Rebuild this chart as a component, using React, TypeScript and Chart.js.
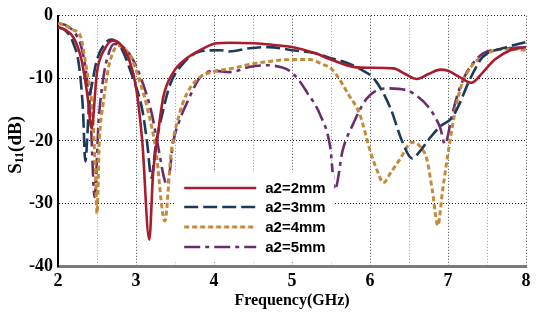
import React, { useEffect, useRef } from "react";
import { Chart, registerables } from "chart.js";

Chart.register(...registerables);

// ---- Data (frequency in GHz, S11 in dB) ----
const freqA = [2.0, 2.1, 2.2, 2.3, 2.38, 2.43, 2.5, 2.6, 2.7, 2.79, 2.92, 3.0, 3.08, 3.17, 3.22, 3.27, 3.35, 3.48, 3.65, 3.85, 4.03, 4.2, 4.5, 4.8, 5.0, 5.3, 5.5, 5.8, 6.0, 6.3, 6.45, 6.6, 6.75, 6.9, 7.0, 7.15, 7.3, 7.45, 7.6, 7.8, 8.0];
const s11A = [-1.8, -2.3, -3.5, -7, -13, -18, -9, -5.3, -4.0, -4.4, -7.3, -11.4, -20, -35.8, -25, -20, -13, -9.0, -6.8, -5.3, -4.4, -4.3, -4.4, -4.7, -5.0, -6.0, -7.0, -8.2, -8.3, -8.4, -9.3, -10.1, -9.3, -8.6, -8.8, -9.8, -10.7, -9.0, -7.0, -5.5, -5.0];

const freqB = [2.0, 2.1, 2.2, 2.27, 2.32, 2.35, 2.4, 2.45, 2.5, 2.6, 2.68, 2.79, 2.96, 3.08, 3.14, 3.2, 3.25, 3.35, 3.44, 3.6, 3.82, 4.08, 4.2, 4.45, 4.7, 5.0, 5.3, 5.5, 5.7, 5.87, 6.06, 6.26, 6.41, 6.54, 6.65, 6.77, 6.9, 7.05, 7.15, 7.25, 7.37, 7.45, 7.7, 8.0];
const s11B = [-1.8, -2.4, -4.5, -8, -15, -23.3, -14, -10, -7, -4.5, -3.8, -4.7, -9.9, -15, -20, -25.9, -21, -15, -10.9, -7.7, -5.7, -5.5, -5.7, -5.2, -5.0, -5.5, -6.0, -6.8, -7.5, -8.5, -10.2, -14.7, -20, -22.8, -21.5, -19.5, -17.7, -16.3, -14, -11, -8, -6.5, -5.2, -4.2];

const freqC = [2.0, 2.1, 2.2, 2.28, 2.37, 2.44, 2.48, 2.5, 2.53, 2.58, 2.64, 2.7, 2.77, 2.85, 2.95, 3.05, 3.15, 3.25, 3.37, 3.45, 3.55, 3.65, 3.8, 4.0, 4.2, 4.45, 4.7, 5.0, 5.23, 5.4, 5.5, 5.6, 5.72, 5.87, 6.0, 6.1, 6.17, 6.27, 6.38, 6.54, 6.65, 6.73, 6.8, 6.87, 6.93, 7.0, 7.1, 7.17, 7.3, 7.45, 7.6, 7.8, 8.0];
const s11C = [-1.2, -1.6, -2.3, -3.0, -8.8, -15, -25, -31.6, -20, -14, -8.8, -6.0, -4.8, -5.2, -7, -10.5, -15, -21, -32.8, -22, -16, -12.5, -10, -8.9, -8.5, -7.8, -7.3, -7.0, -7.0, -7.8, -8.4, -10, -12.5, -15.8, -21.5, -25, -26.7, -25, -23, -20.2, -21, -23, -28, -33.5, -28, -22, -14.7, -11.2, -8.1, -6.5, -5.5, -5.3, -5.5];

const freqD = [2.0, 2.1, 2.2, 2.3, 2.37, 2.42, 2.47, 2.52, 2.58, 2.65, 2.72, 2.8, 2.92, 3.0, 3.12, 3.2, 3.27, 3.4, 3.48, 3.55, 3.65, 3.82, 4.0, 4.2, 4.45, 4.68, 4.85, 4.97, 5.1, 5.19, 5.36, 5.49, 5.55, 5.65, 5.78, 5.96, 6.22, 6.47, 6.6, 6.73, 6.9, 6.96, 7.05, 7.12, 7.22, 7.32, 7.45, 7.71, 8.0];
const s11D = [-1.2, -1.5, -2.5, -5, -10, -17, -29, -17, -10, -6, -4.5, -4.7, -6.2, -8, -12, -15.5, -20, -27, -20, -17, -14, -9.9, -8.8, -9.0, -8.2, -7.9, -8.2, -8.8, -10.5, -12.2, -15.8, -21, -27.8, -21.5, -17.4, -13.2, -11.6, -11.9, -12.8, -14.3, -17.9, -20.5, -16, -12.7, -9.5, -7.6, -6, -5.3, -5.0];

const seriesLabels = ["a2=2mm", "a2=3mm", "a2=4mm", "a2=5mm"];
const xTickMin = 2;
const xTickMax = 8;
const yTickMin = -40;
const yTickMax = 0;

const colors = ["#a81c2c", "#1c3a5a", "#c48a3a", "#6c2c6c"];
const dashes: number[][] = [[], [14, 5], [5, 3], [16, 5, 4, 5]];
const widths = [2.6, 2.6, 3, 2.6];

const pts = (xs: number[], ys: number[]) => xs.map((x, i) => ({ x, y: ys[i] }));

const overlayPlugin = {
  id: "overlay",
  afterDatasetsDraw(chart: any) {
    const { ctx } = chart;
    const xs = chart.scales.x;
    const ys = chart.scales.y;
    ctx.save();
    // legend box
    const bx0 = xs.getPixelForValue(3.49);
    const bx1 = xs.getPixelForValue(5.54);
    const by0 = ys.getPixelForValue(-25.0);
    const by1 = ys.getPixelForValue(-39.4);
    ctx.fillStyle = "#ffffff";
    ctx.fillRect(bx0, by0, bx1 - bx0, by1 - by0);
    const rowY = [188, 207, 227, 247];
    chart.data.datasets.forEach((ds: any, i: number) => {
      const y = rowY[i];
      ctx.beginPath();
      ctx.strokeStyle = ds.borderColor;
      ctx.lineWidth = ds.borderWidth;
      ctx.setLineDash(ds.borderDash || []);
      ctx.moveTo(bx0 + 10, y);
      ctx.lineTo(bx0 + 82, y);
      ctx.stroke();
      ctx.setLineDash([]);
      ctx.fillStyle = "#000";
      ctx.font = 'bold 15px "Liberation Sans", Arial, sans-serif';
      ctx.textBaseline = "middle";
      ctx.textAlign = "left";
      ctx.fillText(ds.label, bx0 + 91, y + 1);
    });
    ctx.restore();
  },
  afterDraw(chart: any) {
    const { ctx, chartArea } = chart;
    ctx.save();
    // x title
    ctx.fillStyle = "#000";
    ctx.font = 'bold 16px "Liberation Serif", "Times New Roman", serif';
    ctx.textAlign = "center";
    ctx.textBaseline = "alphabetic";
    ctx.fillText("Frequency(GHz)", (chartArea.left + chartArea.right) / 2, 305);
    // y title with subscript
    ctx.translate(16, (chartArea.top + chartArea.bottom) / 2 + 4);
    ctx.rotate(-Math.PI / 2);
    const big = 'bold 19px "Liberation Serif", "Times New Roman", serif';
    const small = 'bold 12px "Liberation Serif", "Times New Roman", serif';
    ctx.font = big;
    const wS = ctx.measureText("S").width;
    const wDB = ctx.measureText("(dB)").width;
    ctx.font = small;
    const w11 = ctx.measureText("11").width;
    const total = wS + w11 + wDB;
    let x = -total / 2;
    ctx.textAlign = "left";
    ctx.textBaseline = "middle";
    ctx.font = big;
    ctx.fillText("S", x, 0);
    x += wS;
    ctx.font = small;
    ctx.fillText("11", x, 4);
    x += w11;
    ctx.font = big;
    ctx.fillText("(dB)", x, 0);
    ctx.restore();
  },
};

export default function App() {
  const ref = useRef<HTMLCanvasElement | null>(null);
  useEffect(() => {
    document.body.style.margin = "0";
    const canvas = ref.current!;
    const chart = new Chart(canvas, {
      type: "line",
      data: {
        datasets: [
          { label: seriesLabels[0], data: pts(freqA, s11A) },
          { label: seriesLabels[1], data: pts(freqB, s11B) },
          { label: seriesLabels[2], data: pts(freqC, s11C) },
          { label: seriesLabels[3], data: pts(freqD, s11D) },
        ].map((d, i) => ({
          ...d,
          borderColor: colors[i],
          backgroundColor: colors[i],
          borderWidth: widths[i],
          borderDash: dashes[i],
          pointRadius: 0,
          fill: false,
          cubicInterpolationMode: "monotone" as const,
        })),
      },
      options: {
        animation: false,
        responsive: false,
        maintainAspectRatio: false,
        layout: { padding: { top: 8, right: 10, left: 0, bottom: 0 } },
        plugins: { legend: { display: false }, tooltip: { enabled: false } },
        scales: {
          x: {
            type: "linear",
            min: xTickMin,
            max: xTickMax,
            afterFit: (s: any) => {
              s.height = 47;
            },
            ticks: {
              stepSize: 0.5,
              autoSkip: false,
              maxRotation: 0,
              padding: 5,
              color: "#000",
              font: { family: '"Liberation Serif", "Times New Roman", serif', size: 18, weight: "bold" },
              callback: (v: any) => (Number.isInteger(v) ? String(v) : ""),
            },
            grid: {
              drawTicks: false,
              color: (c: any) => (Number.isInteger(c.tick?.value) ? "#444" : "#999"),
              lineWidth: 1,
            },
            border: { display: true, color: "#7a7a7a", width: 3, dash: [1, 2] },
          },
          y: {
            type: "linear",
            min: yTickMin,
            max: yTickMax,
            afterFit: (s: any) => {
              s.width = 58;
            },
            ticks: {
              stepSize: 10,
              padding: 5,
              color: "#000",
              font: { family: '"Liberation Serif", "Times New Roman", serif', size: 18, weight: "bold" },
            },
            grid: { drawTicks: false, color: "#222", lineWidth: 1 },
            border: { display: true, color: "#000", width: 2, dash: [1, 2] },
          },
        },
      },
      plugins: [overlayPlugin],
    });
    return () => chart.destroy();
  }, []);
  return (
    <div style={{ position: "absolute", left: 0, top: 0, width: 536, height: 313, background: "#fff" }}>
      <canvas ref={ref} width={536} height={313} style={{ width: 536, height: 313 }} />
    </div>
  );
}
